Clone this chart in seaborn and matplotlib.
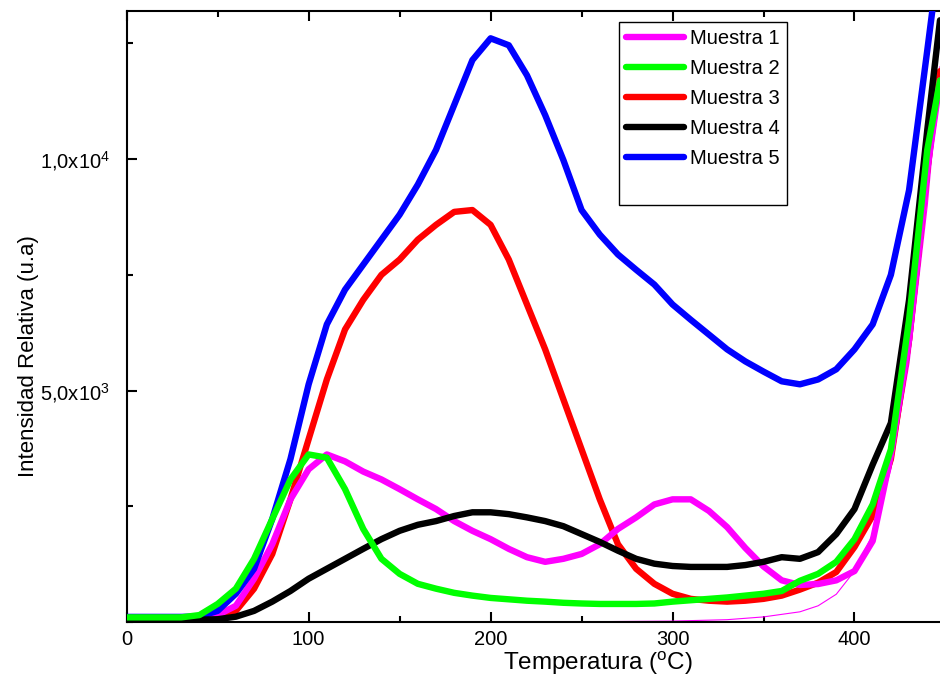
import numpy as np
import pandas as pd
import matplotlib
matplotlib.use("Agg")
import matplotlib.pyplot as plt
from matplotlib.lines import Line2D
from matplotlib.ticker import MultipleLocator
import seaborn as sns

# ---- data ----
temp = [0, 10, 20, 30, 40, 50, 60, 70, 80, 90, 100, 110, 120, 130, 140, 150, 160, 170, 180, 190,
        200, 210, 220, 230, 240, 250, 260, 270, 280, 290, 300, 310, 320, 330, 340, 350, 360, 370,
        380, 390, 400, 410, 420, 430, 440, 447]

muestra1 = [100, 100, 100, 100, 110, 150, 350, 935, 1680, 2650, 3300, 3620, 3470, 3250, 3080, 2870,
            2650, 2440, 2180, 1970, 1790, 1580, 1400, 1300, 1365, 1470, 1680, 2010, 2260, 2540,
            2650, 2650, 2400, 2050, 1600, 1200, 900, 800, 820, 900, 1100, 1750, 3600, 6100, 9770, 11700]
muestra2 = [100, 100, 100, 100, 150, 390, 720, 1365, 2225, 3080, 3620, 3550, 2870, 2010, 1365, 1040,
            825, 720, 630, 570, 520, 490, 460, 440, 415, 400, 390, 390, 390, 400, 440, 470, 500, 530,
            570, 610, 670, 890, 1040, 1300, 1790, 2540, 3730, 6530, 10200, 11700]
muestra3 = [80, 80, 80, 80, 90, 130, 240, 720, 1470, 2650, 3950, 5240, 6320, 6960, 7500, 7830, 8260,
            8580, 8860, 8900, 8580, 7830, 6860, 5890, 4810, 3730, 2650, 1680, 1150, 825, 610, 500,
            460, 440, 460, 500, 570, 700, 850, 1080, 1620, 2300, 3520, 6100, 9770, 11900]
muestra4 = [50, 50, 50, 50, 50, 60, 115, 240, 440, 670, 935, 1150, 1365, 1580, 1790, 1970, 2100,
            2180, 2290, 2370, 2370, 2330, 2260, 2180, 2070, 1900, 1730, 1540, 1365, 1260, 1210, 1190,
            1190, 1190, 1230, 1300, 1400, 1365, 1510, 1900, 2440, 3400, 4300, 6960, 10630, 13000]
muestra5 = [110, 110, 110, 110, 120, 240, 610, 1150, 2225, 3520, 5135, 6430, 7180, 7720, 8260, 8800,
            9450, 10200, 11170, 12140, 12610, 12460, 11810, 10950, 9980, 8900, 8370, 7940, 7610,
            7290, 6860, 6530, 6210, 5890, 5630, 5410, 5200, 5135, 5240, 5460, 5890, 6430, 7500, 9330,
            12350, 14500]

temp_fina = [64, 100, 150, 200, 250, 300, 330, 350, 370, 380, 390, 400, 410, 420, 430, 440, 447]
muestra1_fina = [0, 0, 0, 0, 5, 20, 50, 110, 220, 350, 600, 1100, 1900, 3300, 5600, 9000, 12000]

labels = ["Muestra 1", "Muestra 2", "Muestra 3", "Muestra 4", "Muestra 5"]
colors = ["#ff00ff", "#00ff00", "#ff0000", "#000000", "#0000ff"]
series = [muestra1, muestra2, muestra3, muestra4, muestra5]

x_ticks = [0, 100, 200, 300, 400]
y_ticks = [5000, 10000]
y_ticklabels = [r"5,0x10$^{3}$", r"1,0x10$^{4}$"]

df = pd.DataFrame({
    "Temperatura": np.tile(temp, len(labels)),
    "Intensidad": np.concatenate(series),
    "Serie": np.repeat(labels, len(temp)),
})
df_fina = pd.DataFrame({"Temperatura": temp_fina, "Intensidad": muestra1_fina})

# ---- style ----
sns.set_style("ticks")
plt.rcParams["font.family"] = ["Liberation Sans", "DejaVu Sans"]
plt.rcParams["mathtext.fontset"] = "custom"
plt.rcParams["mathtext.rm"] = "Liberation Sans"
plt.rcParams["mathtext.it"] = "Liberation Sans:italic"
plt.rcParams["mathtext.bf"] = "Liberation Sans:bold"
for k in ["text.color", "axes.labelcolor", "xtick.color", "ytick.color", "axes.edgecolor"]:
    plt.rcParams[k] = "black"

fig = plt.figure(figsize=(9.4, 6.81), dpi=100)
ax = fig.add_axes([126.7 / 940, 59 / 681, 1 - 126.7 / 940, 611 / 681])

lw = 4.6
sns.lineplot(data=df_fina, x="Temperatura", y="Intensidad", color="#ff00ff", lw=0.8, ax=ax,
             zorder=2)
order = ["Muestra 3", "Muestra 1", "Muestra 5", "Muestra 4", "Muestra 2"]
for i, lab in enumerate(order):
    c = colors[labels.index(lab)]
    sns.lineplot(data=df[df["Serie"] == lab], x="Temperatura", y="Intensidad", color=c, lw=lw,
                 ax=ax, zorder=3 + i)

ax.set_xlim(0, 447)
ax.set_ylim(0, 13200)
ax.set_xticks(x_ticks)
ax.set_xticklabels([str(t) for t in x_ticks])
ax.xaxis.set_minor_locator(MultipleLocator(50))
ax.set_yticks(y_ticks)
ax.set_yticklabels(y_ticklabels)
ax.yaxis.set_minor_locator(MultipleLocator(2500))
ax.tick_params(which="both", direction="in", top=True, right=False, width=1.5, labelsize=14.5,
               colors="black")
ax.tick_params(axis="x", pad=6)
ax.tick_params(axis="y", pad=12)
ax.tick_params(which="major", length=7)
ax.tick_params(which="minor", length=4)
for s in ["left", "bottom", "top"]:
    ax.spines[s].set_linewidth(1.5)
    ax.spines[s].set_color("black")
ax.spines["right"].set_visible(False)

ax.set_xlabel(r"Temperatura ($^{\mathrm{o}}$C)", fontsize=17.5)
ax.xaxis.set_label_coords(0.58, -0.046)
ax.set_ylabel("Intensidad Relativa (u.a)", fontsize=16)
ax.yaxis.set_label_coords(-0.108, 0.435)

handles = [Line2D([], [], color=c, lw=lw) for c in colors]
handles.append(Line2D([], [], color="none", lw=0))
leg = ax.legend(handles, labels + [" "], loc="upper left",
                bbox_to_anchor=((619 - 126.7) / 813.3, (622 - 22) / 611), fontsize=14.5,
                frameon=True, fancybox=False, edgecolor="black", framealpha=1,
                handlelength=2.9, handletextpad=0.3, labelspacing=0.55, borderpad=0.35,
                borderaxespad=0)
leg.get_frame().set_linewidth(1.0)

fig.savefig("out.png", dpi=100)
